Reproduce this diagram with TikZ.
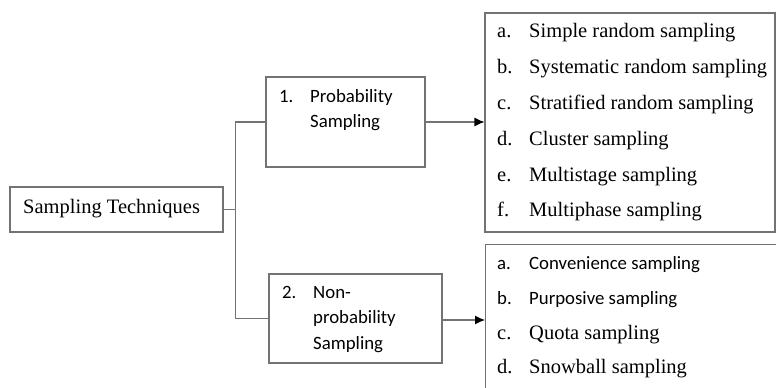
\documentclass[tikz,border=0pt]{standalone}
\usepackage{fontspec}
\setmainfont{Liberation Serif}
\newfontfamily\calib{Carlito}
\usetikzlibrary{arrows.meta}
\tikzset{
  frame/.style={draw=black!55, line width=1.1pt, rectangle, inner sep=0pt},
  wire/.style={draw=black!55, line width=1.1pt},
  arrowwire/.style={wire, -{Latex[length=10pt,width=9pt,color=black]}},
  serif/.style={font=\fontsize{20.5}{24}\selectfont, inner sep=0pt, anchor=base west},
  sans/.style={font=\calib\fontsize{18.8}{22}\selectfont, inner sep=0pt, anchor=base west},
}
\begin{document}
\begin{tikzpicture}[x=1pt, y=-1pt]
  \path[use as bounding box] (0,0) rectangle (776,388);
  \clip (0,0) rectangle (776,388);

  % boxes
  \node[frame, minimum width=213pt, minimum height=45pt] (st) at (116.5,209.5) {};
  \node[frame, minimum width=159pt, minimum height=90pt] (prob) at (345.5,122) {};
  \node[frame, minimum width=173pt, minimum height=89pt] (nonprob) at (355.5,318.5) {};
  \node[frame, minimum width=290pt, minimum height=219pt] (listp) at (630,122.5) {};
  \node[frame, minimum width=300pt, minimum height=160pt, anchor=north west] (listn) at (485,244) {};

  % tree connectors
  \coordinate (fork) at ([xshift=12pt]st.east);
  \draw[wire] (st.east) -- (fork);
  \draw[wire] (prob.west) -| (fork) |- (nonprob.west);
  \draw[arrowwire] (prob.east) -- (prob.east -| listp.west);
  \draw[arrowwire] ([yshift=-1.5pt]nonprob.east) -- ([yshift=-1.5pt]nonprob.east -| listn.west);

  % root label
  \node[serif] (stt) at (23,213) {Sampling Techniques};

  % branch labels
  \node[sans] (p1) at (279,102) {1.};
  \node[sans] (p2) at (310,102) {Probability};
  \node[sans] (p3) at (310,127.5) {Sampling};
  \node[sans] (n1) at (282,298) {2.};
  \node[sans] (n2) at (313,298) {Non-};
  \node[sans] (n3) at (313,323.5) {probability};
  \node[sans] (n4) at (313,349) {Sampling};

  % probability methods
  \node[serif] (la) at (497,37) {a.};
  \node[serif] (ta) at (529,37) {Simple random sampling};
  \node[serif] (lb) at (497,73) {b.};
  \node[serif] (tb) at (529,73) {Systematic random sampling};
  \node[serif] (lc) at (497,109) {c.};
  \node[serif] (tc) at (529,109) {Stratified random sampling};
  \node[serif] (ld) at (497,145) {d.};
  \node[serif] (td) at (529,145) {Cluster sampling};
  \node[serif] (le) at (497,181) {e.};
  \node[serif] (te) at (529,181) {Multistage sampling};
  \node[serif] (lf) at (497,216.5) {f.};
  \node[serif] (tf) at (529,216.5) {Multiphase sampling};

  % non-probability methods
  \node[sans] (ma) at (497,269) {a.};
  \node[sans] (ua) at (529,269) {Convenience sampling};
  \node[sans] (mb) at (497,304) {b.};
  \node[sans] (ub) at (529,304) {Purposive sampling};
  \node[serif] (mc) at (497,339) {c.};
  \node[serif] (uc) at (529,339) {Quota sampling};
  \node[serif] (md) at (497,373.5) {d.};
  \node[serif] (ud) at (529,373.5) {Snowball sampling};
\end{tikzpicture}
\end{document}
